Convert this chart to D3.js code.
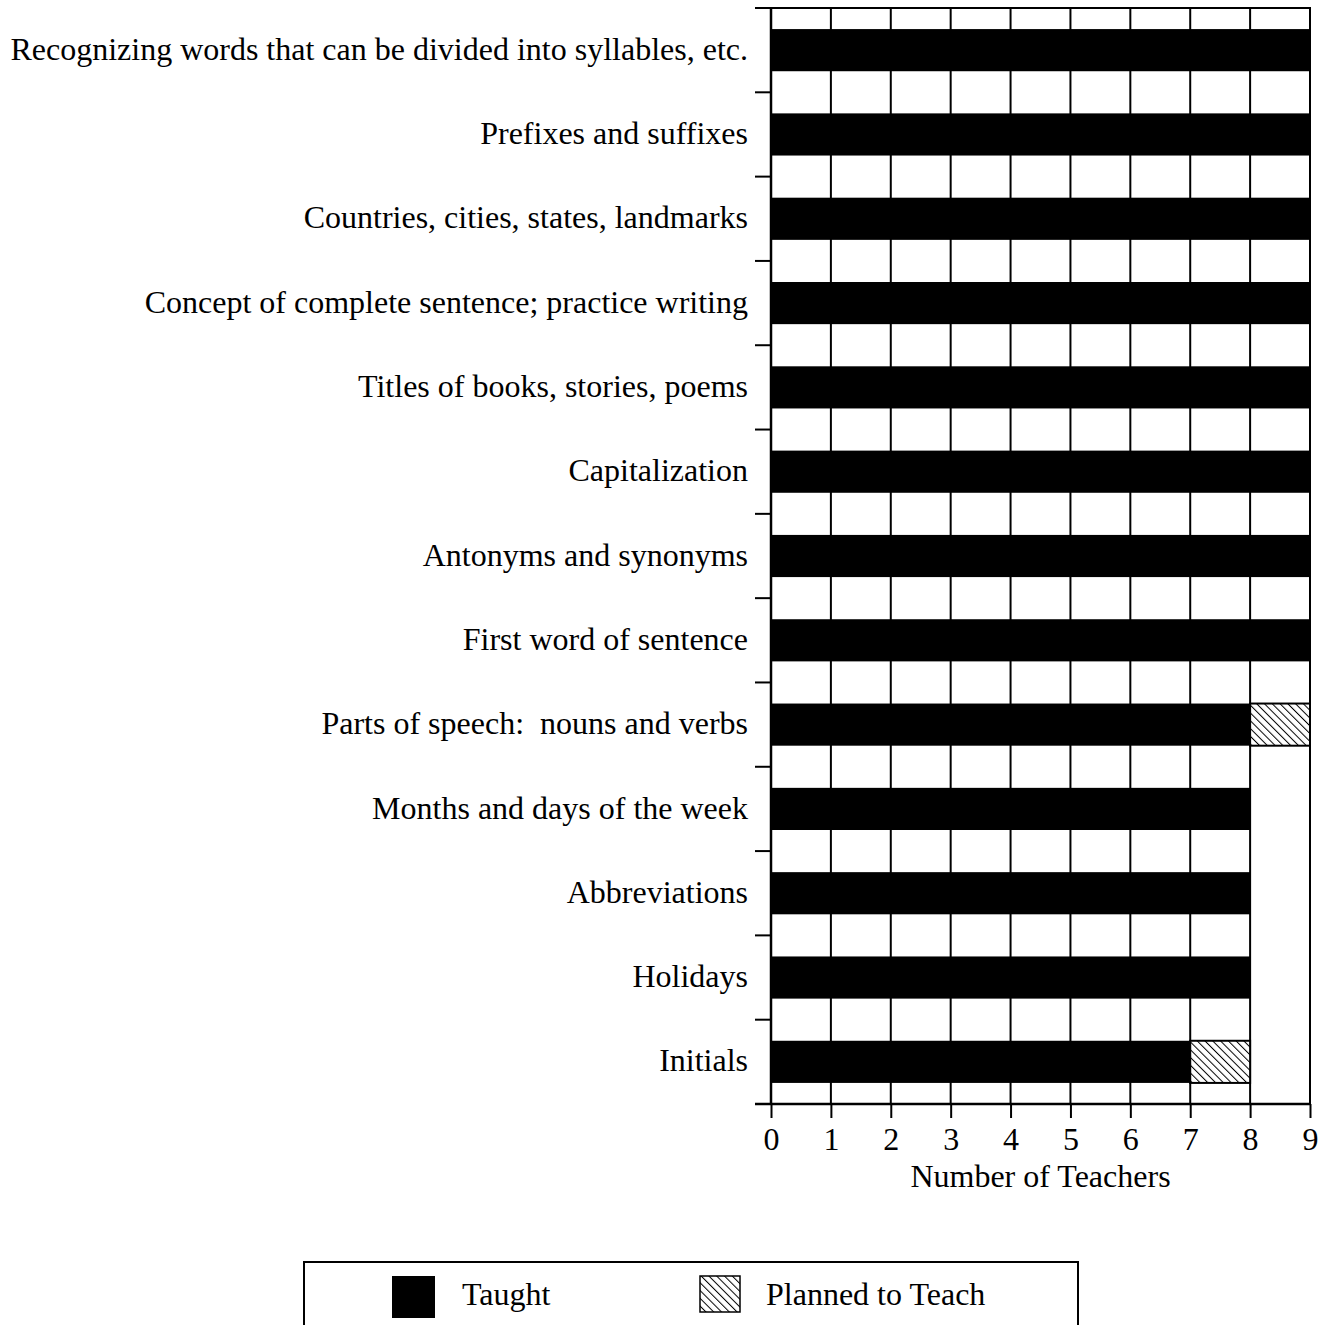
<!DOCTYPE html>
<html><head><meta charset="utf-8">
<script src="https://cdn.jsdelivr.net/npm/d3@7"></script>
<style>body{margin:0;background:#fff}svg{display:block}</style>
</head><body>
<svg id="c" width="1331" height="1325"></svg>
<script>
const categories = [
  "Recognizing words that can be divided into syllables, etc.",
  "Prefixes and suffixes",
  "Countries, cities, states, landmarks",
  "Concept of complete sentence; practice writing",
  "Titles of books, stories, poems",
  "Capitalization",
  "Antonyms and synonyms",
  "First word of sentence",
  "Parts of speech:  nouns and verbs",
  "Months and days of the week",
  "Abbreviations",
  "Holidays",
  "Initials"
];
const taught  = [9,9,9,9,9,9,9,9,8,8,8,8,7];
const planned = [0,0,0,0,0,0,0,0,1,0,0,0,1];
const xTicks = [0,1,2,3,4,5,6,7,8,9];
const seriesNames = ["Taught","Planned to Teach"];

const svg = d3.select("#c");
const FONT = "'Liberation Serif','Times New Roman',serif";
const x = d3.scaleLinear().domain([0,9]).range([771,1310]);
const y = d3.scaleBand().domain(categories).range([8,1104]).paddingInner(0.5).paddingOuter(0.25);

const defs = svg.append("defs");
const pat = defs.append("pattern").attr("id","hatch").attr("patternUnits","userSpaceOnUse")
  .attr("width",5.5).attr("height",5.5).attr("patternTransform","rotate(-45)");
pat.append("rect").attr("width",5.5).attr("height",5.5).attr("fill","#fff");
pat.append("line").attr("x1",0).attr("y1",0).attr("x2",0).attr("y2",5.5).attr("stroke","#000").attr("stroke-width",2);

const [y0,y1] = y.range();
// vertical gridlines
svg.append("g").selectAll("line").data(xTicks.slice(1)).join("line")
  .attr("x1",d=>x(d)).attr("x2",d=>x(d)).attr("y1",y0).attr("y2",y1)
  .attr("stroke","#000").attr("stroke-width",2);

// bars
svg.append("g").selectAll("rect").data(categories).join("rect")
  .attr("x",x(0)).attr("y",d=>y(d)).attr("height",y.bandwidth())
  .attr("width",(d,i)=>x(taught[i])-x(0)).attr("fill","#000");
const plannedRows = categories.map((c,i)=>({c,s:taught[i],v:planned[i]})).filter(d=>d.v>0);
svg.append("g").selectAll("rect").data(plannedRows).join("rect")
  .attr("x",d=>x(d.s)).attr("y",d=>y(d.c)).attr("height",y.bandwidth())
  .attr("width",d=>x(d.s+d.v)-x(d.s))
  .attr("fill","url(#hatch)").attr("stroke","#000").attr("stroke-width",2);

// top frame line
svg.append("line").attr("x1",755).attr("x2",x(9)+1).attr("y1",y0).attr("y2",y0).attr("stroke","#000").attr("stroke-width",2);
// left axis line
svg.append("line").attr("x1",x(0)).attr("x2",x(0)).attr("y1",y0).attr("y2",y1).attr("stroke","#000").attr("stroke-width",2.5);
// left boundary ticks
const bounds = d3.range(categories.length+1).map(i=> y0 + i*(y1-y0)/categories.length);
svg.append("g").selectAll("line").data(bounds).join("line")
  .attr("x1",755).attr("x2",x(0)).attr("y1",d=>d).attr("y2",d=>d).attr("stroke","#000").attr("stroke-width",2);

// bottom axis
const ax = svg.append("g").attr("transform",`translate(0,${y1})`)
  .call(d3.axisBottom(x).tickValues(xTicks).tickSize(14).tickSizeOuter(0).tickFormat(d3.format("d")));
ax.select(".domain").attr("stroke-width",2.5).attr("d",`M755,0H${x(9)+1}`);
ax.selectAll(".tick line").attr("stroke-width",2);
ax.selectAll(".tick text").attr("font-family",FONT).attr("font-size",32).attr("fill","#000").attr("y",22).attr("dy","0.75em");

svg.append("text").attr("x",(x(0)+x(9))/2).attr("y",1187).attr("text-anchor","middle")
  .attr("font-family",FONT).attr("font-size",32).text("Number of Teachers");

// category labels
svg.append("g").selectAll("text").data(categories).join("text")
  .attr("x",748).attr("y",d=>y(d)+y.bandwidth()/2).attr("dy","0.3em").attr("text-anchor","end")
  .attr("font-family",FONT).attr("font-size",32).style("white-space","pre").text(d=>d);

// legend
svg.append("rect").attr("x",304).attr("y",1262).attr("width",774).attr("height",100).attr("fill","none").attr("stroke","#000").attr("stroke-width",2);
svg.append("rect").attr("x",392).attr("y",1276).attr("width",43).attr("height",42).attr("fill","#000");
svg.append("text").attr("x",462).attr("y",1305).attr("font-family",FONT).attr("font-size",32).text(seriesNames[0]);
svg.append("rect").attr("x",700).attr("y",1276).attr("width",40).attr("height",36).attr("fill","url(#hatch)").attr("stroke","#000").attr("stroke-width",1.5);
svg.append("text").attr("x",766).attr("y",1305).attr("font-family",FONT).attr("font-size",32).text(seriesNames[1]);
</script>
</body></html>
